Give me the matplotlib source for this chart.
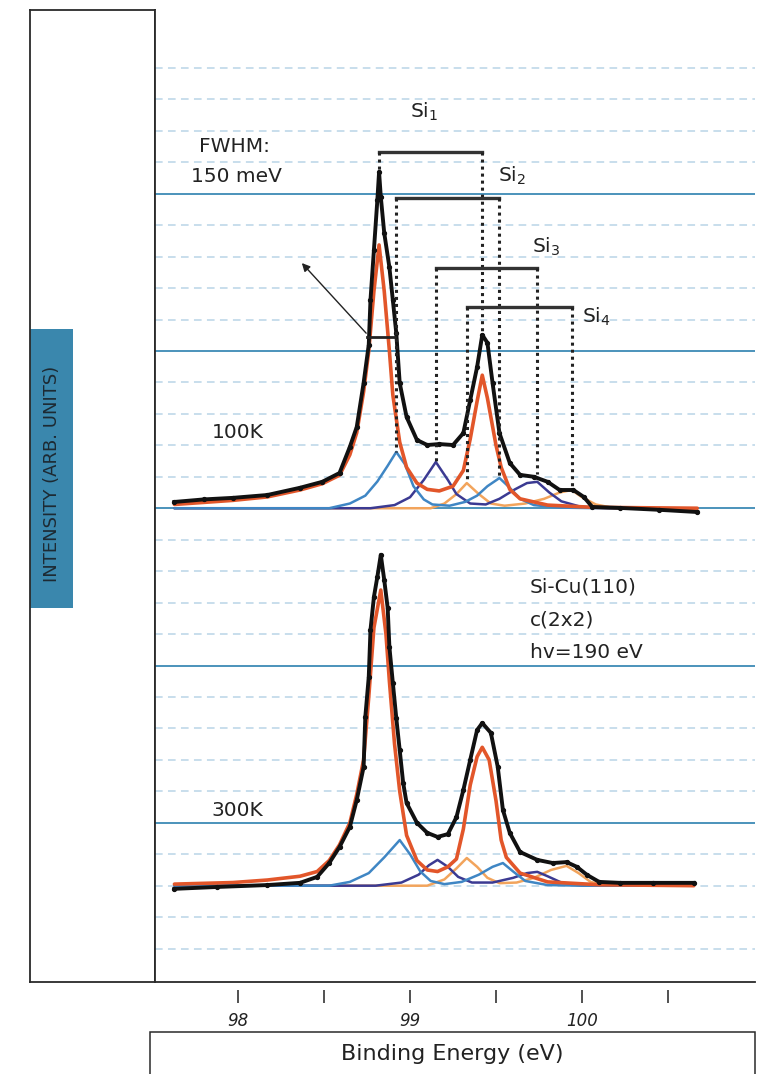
import matplotlib.pyplot as plt
from matplotlib.patches import Rectangle

W, H = 767, 1074

# binding energy (eV) and intensity above each baseline (grid units)
e_100k = [97.63, 97.80, 97.97, 98.17, 98.36, 98.49, 98.59, 98.65, 98.69, 98.73, 98.76, 98.77,
          98.79, 98.81, 98.82, 98.83, 98.85, 98.88, 98.90, 98.92, 98.94, 98.98, 99.04, 99.10,
          99.17, 99.25, 99.31, 99.35, 99.39, 99.42, 99.45, 99.48, 99.52, 99.58, 99.64, 99.72,
          99.80, 99.87, 99.95, 100.01, 100.06, 100.22, 100.45, 100.67]
i_100k = [0.20, 0.28, 0.33, 0.42, 0.65, 0.84, 1.12, 1.95, 2.58, 3.98, 5.20, 6.62,
          8.21, 9.80, 10.69, 9.90, 8.75, 7.66, 6.62, 5.57, 3.98, 2.90, 2.17, 2.01,
          2.04, 2.01, 2.39, 3.44, 4.49, 5.51, 5.26, 3.98, 2.39, 1.44, 1.06, 1.00,
          0.84, 0.58, 0.58, 0.36, 0.04, 0.01, -0.05, -0.12]

e_300k = [97.63, 97.88, 98.17, 98.36, 98.46, 98.53, 98.59, 98.65, 98.69, 98.73, 98.74, 98.76,
          98.77, 98.79, 98.81, 98.83, 98.85, 98.87, 98.88, 98.90, 98.92, 98.94, 98.96, 98.98,
          99.04, 99.10, 99.16, 99.22, 99.27, 99.31, 99.35, 99.39, 99.42, 99.47, 99.51, 99.54,
          99.58, 99.64, 99.74, 99.83, 99.91, 99.97, 100.03, 100.10, 100.22, 100.41, 100.65]
i_300k = [-0.10, -0.04, 0.02, 0.09, 0.28, 0.72, 1.23, 1.87, 2.72, 3.77, 5.37, 6.64,
          8.13, 9.18, 9.82, 10.52, 9.72, 8.83, 7.59, 6.45, 5.33, 4.31, 3.27, 2.63,
          2.00, 1.68, 1.55, 1.64, 2.18, 3.04, 4.00, 4.95, 5.17, 4.86, 3.78, 2.41,
          1.68, 1.07, 0.82, 0.72, 0.75, 0.60, 0.34, 0.12, 0.09, 0.09, 0.09]

# fitted components, 100K
si1_e_100k = [97.63, 97.97, 98.17, 98.36, 98.49, 98.59, 98.65, 98.69, 98.73, 98.76, 98.79, 98.82,
              98.85, 98.88, 98.90, 98.94, 98.98, 99.04, 99.10, 99.17, 99.25, 99.31, 99.35, 99.39,
              99.42, 99.45, 99.50, 99.53, 99.58, 99.64, 99.80, 100.06, 100.67]
si1_i_100k = [0.12, 0.25, 0.36, 0.58, 0.78, 1.05, 1.70, 2.40, 3.70, 5.00, 6.90, 8.37,
              6.90, 5.00, 3.60, 2.10, 1.30, 0.80, 0.60, 0.55, 0.70, 1.20, 2.20, 3.40,
              4.23, 3.50, 2.00, 1.30, 0.60, 0.30, 0.10, 0.03, 0.00]
si2_e_100k = [97.63, 98.53, 98.65, 98.74, 98.81, 98.87, 98.92, 98.97, 99.02, 99.08, 99.13, 99.23,
              99.32, 99.39, 99.45, 99.52, 99.58, 99.64, 99.72, 99.87, 100.10, 100.67]
si2_i_100k = [0.00, 0.00, 0.15, 0.40, 0.85, 1.35, 1.79, 1.40, 0.70, 0.28, 0.12, 0.08,
              0.20, 0.40, 0.70, 0.96, 0.65, 0.30, 0.10, 0.02, 0.00, 0.00]
si3_e_100k = [97.63, 98.77, 98.91, 99.00, 99.08, 99.15, 99.22, 99.27, 99.35, 99.44, 99.52, 99.61,
              99.68, 99.74, 99.81, 99.88, 99.99, 100.16, 100.67]
si3_i_100k = [0.00, 0.00, 0.10, 0.35, 0.90, 1.47, 0.90, 0.45, 0.15, 0.12, 0.30, 0.60,
              0.80, 0.84, 0.50, 0.22, 0.05, 0.00, 0.00]
si4_e_100k = [97.63, 99.12, 99.20, 99.27, 99.33, 99.40, 99.47, 99.55, 99.67, 99.78, 99.87, 99.94,
              100.00, 100.08, 100.19, 100.67]
si4_i_100k = [0.00, 0.00, 0.15, 0.45, 0.80, 0.45, 0.15, 0.08, 0.15, 0.30, 0.50, 0.58,
              0.35, 0.12, 0.00, 0.00]

# fitted components, 300K
si1_e_300k = [97.63, 97.97, 98.17, 98.36, 98.46, 98.53, 98.59, 98.65, 98.69, 98.73, 98.76, 98.79,
              98.83, 98.86, 98.88, 98.91, 98.94, 98.98, 99.04, 99.10, 99.16, 99.22, 99.27, 99.31,
              99.35, 99.39, 99.42, 99.46, 99.50, 99.53, 99.56, 99.64, 99.80, 100.10, 100.65]
si1_i_300k = [0.05, 0.10, 0.18, 0.30, 0.45, 0.80, 1.30, 2.00, 2.90, 4.00, 6.00, 8.20,
              9.40, 8.00, 6.50, 4.50, 3.00, 1.60, 0.80, 0.50, 0.45, 0.60, 0.85, 1.80,
              3.20, 4.10, 4.40, 4.00, 2.70, 1.45, 0.90, 0.40, 0.12, 0.03, 0.00]
si2_e_300k = [97.63, 98.53, 98.65, 98.76, 98.85, 98.94, 99.00, 99.06, 99.12, 99.20, 99.30, 99.40,
              99.48, 99.54, 99.60, 99.67, 99.80, 100.00, 100.65]
si2_i_300k = [0.00, 0.00, 0.12, 0.40, 0.90, 1.45, 1.00, 0.45, 0.15, 0.05, 0.12, 0.35,
              0.60, 0.72, 0.45, 0.15, 0.02, 0.00, 0.00]
si3_e_300k = [97.63, 98.80, 98.95, 99.05, 99.11, 99.16, 99.22, 99.28, 99.36, 99.48, 99.60, 99.68,
              99.74, 99.80, 99.88, 100.00, 100.65]
si3_i_300k = [0.00, 0.00, 0.10, 0.35, 0.65, 0.82, 0.60, 0.28, 0.10, 0.10, 0.25, 0.40,
              0.44, 0.30, 0.10, 0.00, 0.00]
si4_e_300k = [97.63, 99.10, 99.20, 99.27, 99.33, 99.39, 99.45, 99.52, 99.62, 99.72, 99.82, 99.91,
              99.98, 100.05, 100.15, 100.65]
si4_i_300k = [0.00, 0.00, 0.20, 0.55, 0.88, 0.60, 0.25, 0.08, 0.10, 0.25, 0.50, 0.63,
              0.40, 0.12, 0.00, 0.00]

# Si doublet brackets (100K panel)
si_labels = ['Si$_1$', 'Si$_2$', 'Si$_3$', 'Si$_4$']
si_left = [98.82, 98.92, 99.15, 99.33]
si_right = [99.42, 99.52, 99.74, 99.94]
si_bar = [11.33, 9.87, 7.64, 6.41]
si_left_end = [10.7, 1.8, 1.5, 0.9]
si_right_end = [5.5, 1.0, 1.1, 0.6]
si_text_e = [99.00, 99.51, 99.71, 100.00]
si_text_i = [12.6, 10.57, 8.31, 6.10]

tick_pos = [98, 98.5, 99, 99.5, 100, 100.5]
tick_lbl = ['98', '', '99', '', '100', '']

off_100k = 14
off_300k = 2

c_black = '#111111'
c_si1 = '#e2562a'
c_si2 = '#3f86c4'
c_si3 = '#3b3a92'
c_si4 = '#f2a45c'
c_dash = '#b9d4e7'
c_solid = '#3d8ab5'
c_box = '#3a87ad'
c_edge = '#2a2a2a'

plt.rcParams['font.family'] = ['DejaVu Sans']

fig = plt.figure(figsize=(W / 100, H / 100), dpi=100)

def fx(px):
    return px / W

def fy(py):
    return 1 - py / H

# left box with the intensity label
lax = fig.add_axes([fx(30), fy(982), 125 / W, 972 / H])
lax.set_xticks([])
lax.set_yticks([])
for s in lax.spines.values():
    s.set_color(c_edge)
    s.set_linewidth(1.3)
lax.add_patch(Rectangle((0, (982 - 608) / 972), 43 / 125, (608 - 329) / 972,
                        transform=lax.transAxes, color=c_box, lw=0))
lax.text(22 / 125, (982 - 474) / 972, 'INTENSITY (ARB. UNITS)', rotation=90,
         ha='center', va='center', fontsize=13, color='#1d2a33', transform=lax.transAxes)

# main panel
ax = fig.add_axes([fx(155), fy(982), 600 / W, 972 / H])
ax.set_xlim(97.517, 101.006)
ax.set_ylim(-1.062, 29.84)
ax.set_xticks([])
ax.set_yticks([])
ax.spines['top'].set_visible(False)
ax.spines['right'].set_visible(False)
ax.spines['left'].set_color(c_edge)
ax.spines['bottom'].set_color(c_edge)
ax.spines['left'].set_linewidth(1.3)
ax.spines['bottom'].set_linewidth(1.3)

for v in range(29):
    if v % 5 == 4:
        ax.axhline(v, color=c_solid, lw=1.3, zorder=0)
    else:
        ax.axhline(v, color=c_dash, lw=1.1, ls=(0, (5, 3.5)), zorder=0)

def draw(e_list, i_list, off, color, lw, z):
    ax.plot(e_list, [v + off for v in i_list], color=color, lw=lw, zorder=z,
            solid_capstyle='round')

for off, comps, data in [
        (off_100k,
         [(si4_e_100k, si4_i_100k, c_si4), (si3_e_100k, si3_i_100k, c_si3),
          (si2_e_100k, si2_i_100k, c_si2), (si1_e_100k, si1_i_100k, c_si1)],
         (e_100k, i_100k)),
        (off_300k,
         [(si4_e_300k, si4_i_300k, c_si4), (si3_e_300k, si3_i_300k, c_si3),
          (si2_e_300k, si2_i_300k, c_si2), (si1_e_300k, si1_i_300k, c_si1)],
         (e_300k, i_300k))]:
    for k, (ce, ci, cc) in enumerate(comps):
        draw(ce, ci, off, cc, 2.6 if cc == c_si1 else 1.8, 2 + k * 0.1)
    ax.plot(data[0], [v + off for v in data[1]], color=c_black, lw=2.8,
            marker='o', ms=2.8, zorder=5)

# Si doublet brackets
for lab, l, r, b, le, re, te, ti in zip(si_labels, si_left, si_right, si_bar, si_left_end,
                                         si_right_end, si_text_e, si_text_i):
    ax.plot([l, r], [b + off_100k] * 2, color='#333333', lw=2.4, zorder=6)
    ax.plot([l, l], [b + off_100k, le + off_100k], color='#222222', lw=2.2,
            ls=(0, (1, 1.3)), zorder=6)
    ax.plot([r, r], [b + off_100k, re + off_100k], color='#222222', lw=2.2,
            ls=(0, (1, 1.3)), zorder=6)
    ax.text(te, ti + off_100k, lab, ha='left', va='center', fontsize=14.5, color='#222222')

# FWHM marker
ax.plot([98.75, 98.91], [5.45 + off_100k] * 2, color='#222222', lw=2, zorder=7)
ax.annotate('', xy=(98.36, 7.86 + off_100k), xytext=(98.756, 5.5 + off_100k),
            arrowprops=dict(arrowstyle='-|>', color='#222222', lw=1, mutation_scale=12),
            zorder=7)

# bottom ticks, detached from the axis line
sec = ax.secondary_xaxis(-8 / 972)
for s in sec.spines.values():
    s.set_visible(False)
sec.set_xticks(tick_pos, tick_lbl, fontstyle='italic', fontsize=12, color='#222222')
sec.tick_params(direction='out', length=9.5, width=1.1, pad=6, color='#222222')

txt = dict(fontsize=14.5, color='#222222', va='center')
fig.text(fx(234), fy(147), 'FWHM:', ha='center', **txt)
fig.text(fx(236), fy(177), '150 meV', ha='center', **txt)
fig.text(fx(238), fy(433), '100K', ha='center', **txt)
fig.text(fx(237), fy(810), '300K', ha='center', **txt)
fig.text(fx(530), fy(587), 'Si-Cu(110)', ha='left', **txt)
fig.text(fx(530), fy(620), 'c(2x2)', ha='left', **txt)
fig.text(fx(530), fy(652), 'hv=190 eV', ha='left', **txt)

# x label box
fig.add_artist(Rectangle((fx(150), fy(1100)), 605 / W, (1100 - 1032) / H, fill=False,
                         ec=c_edge, lw=1.1, transform=fig.transFigure, clip_on=False))
fig.text(fx(452), fy(1054), 'Binding Energy (eV)', ha='center', va='center',
         fontsize=16, color='#222222')

fig.savefig('out.png', dpi=100)
